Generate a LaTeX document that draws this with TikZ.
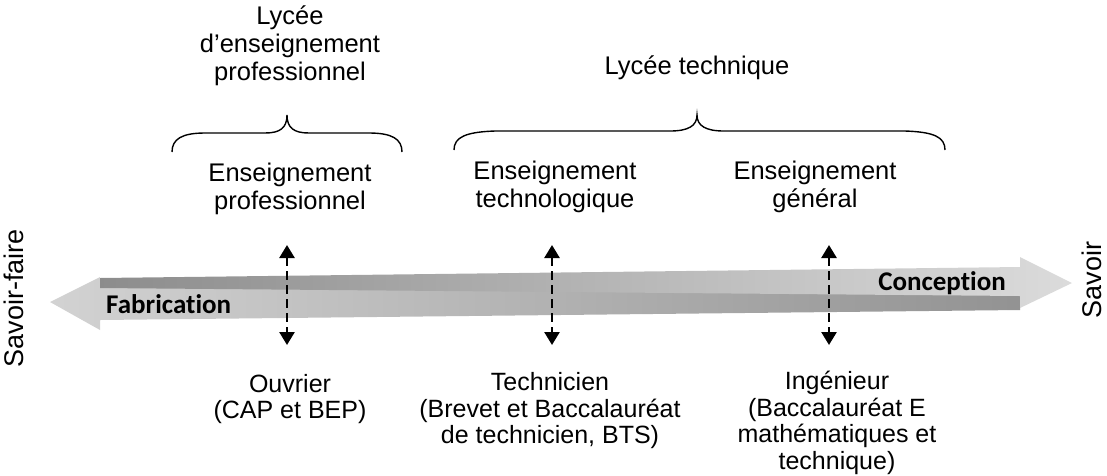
\documentclass[tikz,border=0pt]{standalone}
\usepackage{fontspec}
\setmainfont{Liberation Sans}
\newfontfamily\calfont[Ligatures=NoCommon]{Carlito}
\usetikzlibrary{arrows.meta}
\begin{document}
\begin{tikzpicture}[x=1pt,y=-1pt,
  txt/.style={align=center,font=\fontsize{25.5}{28}\selectfont,inner sep=0pt},
  btxt/.style={align=center,font=\fontsize{25}{26.5}\selectfont,inner sep=0pt},
  side/.style={font=\fontsize{27}{30}\selectfont,inner sep=0pt,rotate=90},
  band/.style={font=\calfont\bfseries\fontsize{27}{28}\selectfont,inner sep=0pt},
  brace/.style={line width=1.4pt,black},
  dasharrow/.style={line width=2.6pt,dash pattern=on 9pt off 5pt,
     {Triangle[width=15pt,length=13pt]}-{Triangle[width=15pt,length=13pt]}}]
\useasboundingbox (0,0) rectangle (1107,475);
% bands
\shade[left color=gray!35!white,right color=gray!85!white]
  (1020,295) -- (1020,310) -- (100,320) -- (100,330) -- (50,302) -- (100,277) -- (100,278) -- cycle;
\shade[left color=gray!90!white,right color=gray!28!white]
  (100,278) -- (1020,267) -- (1020,257) -- (1072,283) -- (1020,308) -- (1020,296) -- (100,288) -- cycle;
\node[band,anchor=west] (fab) at (106,304) {Fabrication};
\node[band,anchor=east] (con) at (1006,283) {Conception};
% side labels
\node[side] (sf) at (14,298) {Savoir-faire};
\node[side] (sv) at (1092,280) {Savoir};
% top
\node[txt] (lep) at (290,46) {Lycée\\d’enseignement\\professionnel};
\node[txt] (lt) at (697,68) {Lycée technique};
\node[txt] (ep) at (290,189) {Enseignement\\professionnel};
\node[txt] (et) at (555,187) {Enseignement\\technologique};
\node[txt] (eg) at (815,187) {Enseignement\\général};
% braces
\draw[brace] (172,152) .. controls (172,139) and (182,133) .. (205,133) -- (265,133)
  .. controls (280,133) and (287,128) .. (287,115)
  .. controls (287,128) and (294,133) .. (309,133) -- (369,133)
  .. controls (392,133) and (402,139) .. (402,152);
\draw[brace] (454,150) .. controls (454,137) and (466,132) .. (495,131) -- (670,131)
  .. controls (688,131) and (697,126) .. (697,115)
  .. controls (697,126) and (706,131) .. (724,131) -- (905,131)
  .. controls (934,132) and (945,137) .. (945,150);
% dashed arrows
\coordinate (a1t) at (287,245); \coordinate (a1b) at (287,345);
\coordinate (a2t) at (552,245); \coordinate (a2b) at (552,345);
\coordinate (a3t) at (829,245); \coordinate (a3b) at (829,345);
\draw[dasharrow] (a1t) -- (a1b);
\draw[dasharrow] (a2t) -- (a2b);
\draw[dasharrow] (a3t) -- (a3b);
% bottom
\node[btxt] (ouv) at (290,399) {Ouvrier\\(CAP et BEP)};
\node[btxt] (tec) at (550,411) {Technicien\\(Brevet et Baccalauréat\\de technicien, BTS)};
\node[btxt] (ing) at (837,423) {Ingénieur\\(Baccalauréat E\\mathématiques et\\technique)};
\end{tikzpicture}
\end{document}
